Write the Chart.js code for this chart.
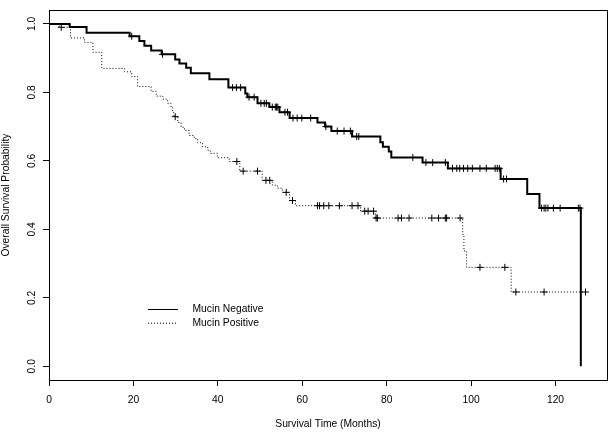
<!DOCTYPE html>
<html>
<head>
<meta charset="utf-8">
<script src="https://cdn.jsdelivr.net/npm/chart.js@4/dist/chart.umd.min.js"></script>
<style>
  body { margin: 0; background: #fff; }
  canvas { display: block; }
</style>
</head>
<body>
<canvas id="km" width="612" height="432"></canvas>
<script>
'use strict';

// Kaplan-Meier steps (time in months, survival after the event)
const negTimes = [0, 4.9, 8.9, 19.1, 21.4, 22.6, 24.2, 26.7, 29.9, 30.9, 32.5, 33.6, 38.0, 42.5, 46.5, 47.0, 49.4, 52.2, 54.6, 57.0, 63.6, 65.4, 66.9, 71.8, 78.5, 79.1, 80.5, 81.1, 88.5, 94.5, 107.0, 113.3, 116.2, 126.0];
const negSurv  = [1.0, 0.991, 0.974, 0.964, 0.950, 0.936, 0.922, 0.911, 0.896, 0.884, 0.872, 0.856, 0.838, 0.814, 0.797, 0.786, 0.768, 0.757, 0.742, 0.725, 0.712, 0.700, 0.687, 0.671, 0.654, 0.641, 0.627, 0.610, 0.595, 0.578, 0.547, 0.503, 0.462, 0.0];
const negCensored = [19.6, 26.9, 43.5, 44.4, 45.4, 47.4, 48.6, 50.2, 51.0, 51.5, 52.9, 53.6, 53.9, 54.2, 55.9, 56.5, 57.8, 58.8, 59.9, 62.0, 65.6, 68.3, 69.9, 71.4, 72.9, 73.4, 86.2, 89.3, 90.9, 93.9, 95.6, 96.6, 97.3, 98.2, 99.2, 100.3, 102.1, 103.6, 105.7, 106.2, 106.7, 107.7, 108.4, 116.7, 117.3, 117.7, 118.2, 119.5, 121.1, 125.4, 125.8];

const posTimes = [0, 2.4, 5.1, 8.4, 10.4, 12.5, 17.9, 19.6, 21.0, 24.2, 25.4, 27.0, 28.1, 28.9, 29.3, 29.6, 30.5, 31.3, 32.1, 33.2, 34.4, 35.2, 36.4, 37.6, 38.2, 39.9, 42.7, 45.2, 50.5, 52.9, 54.1, 55.3, 57.0, 58.4, 73.8, 77.3, 98.0, 98.3, 98.9, 109.5];
const posSurv  = [1.0, 0.990, 0.959, 0.946, 0.917, 0.870, 0.860, 0.846, 0.817, 0.803, 0.789, 0.780, 0.768, 0.755, 0.741, 0.729, 0.712, 0.698, 0.689, 0.674, 0.665, 0.653, 0.641, 0.631, 0.622, 0.609, 0.598, 0.570, 0.543, 0.529, 0.520, 0.508, 0.484, 0.469, 0.453, 0.433, 0.385, 0.337, 0.289, 0.217];
const posCensored = [2.9, 29.9, 44.5, 46.0, 49.4, 51.4, 52.3, 56.2, 57.7, 63.6, 64.1, 65.1, 66.3, 68.8, 71.8, 73.2, 74.8, 75.6, 76.9, 77.5, 77.8, 82.7, 83.5, 85.3, 90.7, 92.3, 93.9, 94.2, 97.4, 102.1, 108.0, 110.6, 117.3, 127.1];

const groupLabels = ['Mucin Negative', 'Mucin Positive'];
const xTicks = [0, 20, 40, 60, 80, 100, 120];
const yTicks = [0.0, 0.2, 0.4, 0.6, 0.8, 1.0];

function survAt(times, surv, t) {
  let s = surv[0];
  for (let i = 0; i < times.length; i++) {
    if (times[i] <= t) s = surv[i];
  }
  return s;
}

function stepPoints(times, surv, censored) {
  let pts = times.map((t, i) => ({x: t, y: surv[i]}));
  let lastC = censored[censored.length - 1];
  if (lastC > times[times.length - 1]) pts.push({x: lastC, y: surv[surv.length - 1]});
  return pts;
}

function censorPoints(times, surv, censored) {
  return censored.map(t => ({x: t, y: survAt(times, surv, t)}));
}

const FONT = {family: 'Liberation Sans, Arial, Helvetica, sans-serif', size: 10.3};

const boxAndLegend = {
  id: 'boxAndLegend',
  afterDatasetsDraw(chart) {
    const {ctx, chartArea: a} = chart;
    ctx.save();
    ctx.strokeStyle = '#000';
    ctx.lineWidth = 1;
    let l = Math.round(a.left) + 0.5, t = Math.round(a.top) + 0.5;
    ctx.strokeRect(l, t, Math.round(a.right) - Math.round(a.left), Math.round(a.bottom) - Math.round(a.top));

    // legend
    ctx.font = FONT.size + 'px ' + FONT.family;
    ctx.fillStyle = '#000';
    ctx.textBaseline = 'middle';
    ctx.textAlign = 'left';
    let rows = [309, 322.7];
    for (let i = 0; i < 2; i++) {
      let ds = chart.data.datasets[i];
      ctx.beginPath();
      ctx.setLineDash(i === 0 ? [] : [1, 2]);
      ctx.lineWidth = 1;
      ctx.strokeStyle = '#000';
      ctx.moveTo(148, rows[i] + 0.5);
      ctx.lineTo(178, rows[i] + 0.5);
      ctx.stroke();
      ctx.fillText(ds.label, 192.5, rows[i] + 0.5);
    }
    ctx.restore();
  }
};

const ctx = document.getElementById('km');

new Chart(ctx, {
  type: 'line',
  data: {
    datasets: [
      {
        label: groupLabels[0],
        data: stepPoints(negTimes, negSurv, negCensored),
        stepped: 'before',
        borderColor: '#000',
        borderWidth: 2,
        pointRadius: 0,
        fill: false
      },
      {
        label: groupLabels[1],
        data: stepPoints(posTimes, posSurv, posCensored),
        stepped: 'before',
        borderColor: '#000',
        borderWidth: 1,
        borderDash: [1, 2],
        pointRadius: 0,
        fill: false
      },
      {
        type: 'scatter',
        label: groupLabels[0] + ' censored',
        data: censorPoints(negTimes, negSurv, negCensored),
        showLine: false,
        pointStyle: 'cross',
        pointRadius: 3.5,
        borderColor: '#000',
        borderWidth: 1
      },
      {
        type: 'scatter',
        label: groupLabels[1] + ' censored',
        data: censorPoints(posTimes, posSurv, posCensored),
        showLine: false,
        pointStyle: 'cross',
        pointRadius: 3.5,
        borderColor: '#000',
        borderWidth: 1
      }
    ]
  },
  options: {
    responsive: false,
    animation: false,
    layout: {padding: {top: 3, right: 3, left: 0, bottom: 0}},
    plugins: {
      legend: {display: false},
      tooltip: {enabled: false}
    },
    scales: {
      x: {
        type: 'linear',
        min: 0,
        max: 132.2,
        afterFit(s) { s.height = 52; },
        afterBuildTicks(s) { s.ticks = xTicks.map(v => ({value: v})); },
        border: {display: false},
        grid: {drawOnChartArea: false, drawTicks: true, tickLength: 6, color: '#000', lineWidth: 1},
        ticks: {color: '#000', font: FONT, padding: 7.5, maxRotation: 0, callback: v => String(v)},
        title: {display: true, text: 'Survival Time (Months)', color: '#000', font: FONT, padding: {top: 0, bottom: 1.8}}
      },
      y: {
        type: 'linear',
        min: -0.04,
        max: 1.04,
        afterFit(s) { s.width = 49; },
        afterBuildTicks(s) { s.ticks = yTicks.map(v => ({value: v})); },
        border: {display: false},
        grid: {drawOnChartArea: false, drawTicks: true, tickLength: 6, color: '#000', lineWidth: 1},
        ticks: {color: '#000', font: FONT, padding: 4, minRotation: 90, maxRotation: 90, crossAlign: 'center', callback: v => Number(v).toFixed(1)},
        title: {display: true, text: 'Overall Survival Probability', color: '#000', font: FONT, padding: {top: 0, bottom: 0}}
      }
    }
  },
  plugins: [boxAndLegend]
});
</script>
</body>
</html>
